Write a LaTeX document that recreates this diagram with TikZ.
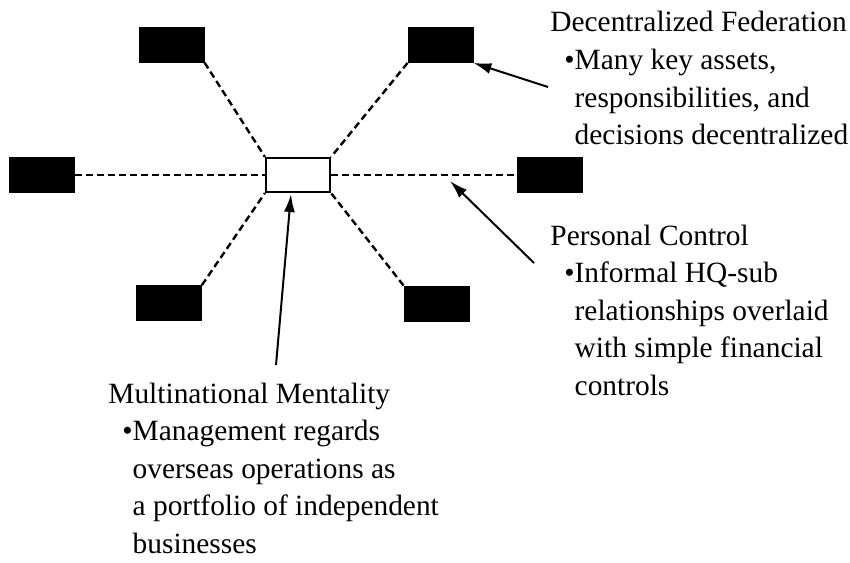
\documentclass[tikz,border=0pt]{standalone}
\usepackage{fontspec}
\setmainfont{Liberation Serif}
\usetikzlibrary{arrows.meta}
\newcommand{\itm}{\hspace*{7pt}\textbullet}
\newcommand{\ind}{\hspace*{7pt}\phantom{\textbullet}}
\newcommand{\blurb}[1]{\parbox[t]{200pt}{\fontsize{14.7}{18.75}\selectfont\raggedright #1}}
\begin{document}
\begin{tikzpicture}[x=0.5pt,y=-0.5pt]
	\tikzset{unit/.style={draw,fill=black,minimum width=32.5pt,minimum height=17.5pt,inner sep=0pt}}
	\tikzset{hub/.style={draw,fill=white,line width=1.1pt,minimum width=32pt,minimum height=17pt,inner sep=0pt}}
	\tikzset{link/.style={dash pattern=on 3.5pt off 2pt,line width=1.2pt}}
	\tikzset{note/.style={anchor=base west,inner sep=0pt}}
	\tikzset{pointer/.style={-{Latex[length=9pt,width=5.5pt]},line width=1pt}}
	\useasboundingbox (0,0) rectangle (850,562);
	% headquarters and subsidiaries
	\node[hub] (hq) at (298,175) {};
	\node[unit] (nw) at (171.5,44.5) {};
	\node[unit] (ne) at (440.5,45) {};
	\node[unit] (w) at (42,175) {};
	\node[unit] (e) at (550,175) {};
	\node[unit] (sw) at (169,303) {};
	\node[unit] (se) at (436.5,303.5) {};
	\draw[link] (nw.south east) -- (hq.north west);
	\draw[link] (ne.south west) -- (hq.north east);
	\draw[link] (w.east) -- (hq.west);
	\draw[link] (hq.east) -- (e.west);
	\draw[link] (sw.north east) -- (hq.south west);
	\draw[link] (se.north west) -- (hq.south east);
	% labels
	\node[note] (fed) at (550,32) {\blurb{Decentralized Federation\\
		\itm Many key assets,\\
		\ind responsibilities, and\\
		\ind decisions decentralized}};
	\node[note] (pers) at (550,245) {\blurb{Personal Control\\
		\itm Informal HQ-sub\\
		\ind relationships overlaid\\
		\ind with simple financial\\
		\ind controls}};
	\node[note] (multi) at (108,403) {\blurb{Multinational Mentality\\
		\itm Management regards\\
		\ind overseas operations as\\
		\ind a portfolio of independent\\
		\ind businesses}};
	\coordinate (fedtail) at (548,87);
	\coordinate (perstail) at (534,263);
	\coordinate (perstip) at (450,181);
	\coordinate (multitail) at (276,365);
	\coordinate (multitip) at (291,194);
	\draw[pointer] (fedtail) -- (ne.south east);
	\draw[pointer] (perstail) -- (perstip);
	\draw[pointer] (multitail) -- (multitip);
\end{tikzpicture}
\end{document}
